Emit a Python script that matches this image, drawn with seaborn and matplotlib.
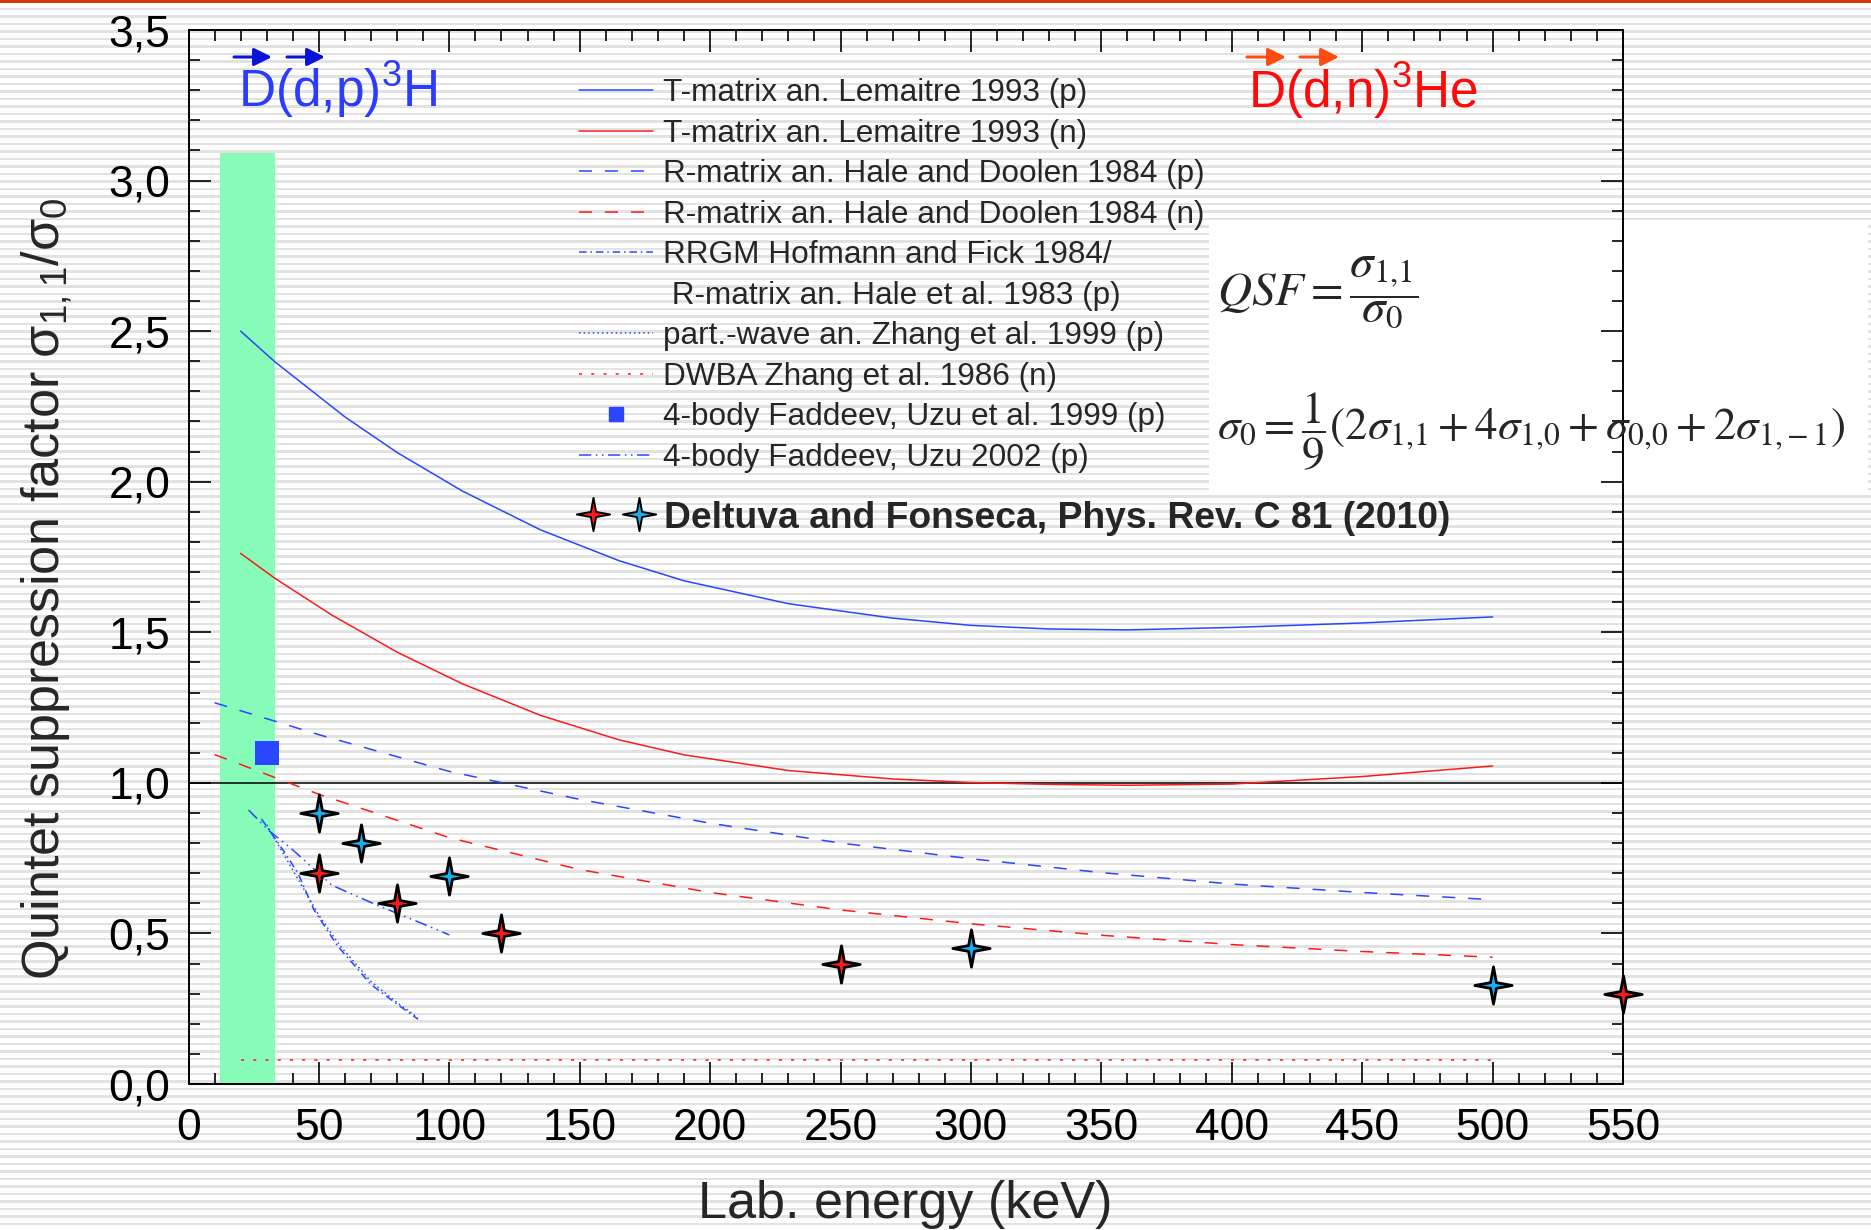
import numpy as np
import seaborn as sns
import matplotlib.pyplot as plt
from matplotlib.lines import Line2D
from matplotlib.path import Path
from matplotlib.patches import Rectangle
from matplotlib.ticker import MultipleLocator, FuncFormatter
from matplotlib.legend_handler import HandlerTuple

# --- data (keV, sigma_11/sigma_0) ---
# T-matrix an. Lemaitre 1993
tm_p_x = [20, 33, 60, 80, 105, 135, 165, 190, 230, 270, 300, 330, 360, 400, 450, 500]
tm_p_y = [2.50, 2.399, 2.215, 2.097, 1.969, 1.840, 1.738, 1.671, 1.595, 1.547, 1.523, 1.511,
          1.508, 1.516, 1.531, 1.551]
tm_n_x = [20, 33, 55, 80, 105, 135, 165, 190, 230, 270, 300, 330, 360, 400, 450, 500]
tm_n_y = [1.762, 1.680, 1.557, 1.434, 1.329, 1.224, 1.143, 1.093, 1.041, 1.013, 1.001, 0.995,
          0.992, 0.996, 1.021, 1.056]
# R-matrix an. Hale and Doolen 1984
rm_p_x = [10, 50, 100, 150, 200, 250, 300, 350, 400, 450, 500]
rm_p_y = [1.266, 1.160, 1.038, 0.945, 0.866, 0.800, 0.748, 0.702, 0.664, 0.636, 0.612]
rm_n_x = [10, 50, 100, 150, 200, 250, 300, 350, 400, 450, 500]
rm_n_y = [1.094, 0.962, 0.818, 0.712, 0.636, 0.578, 0.532, 0.494, 0.463, 0.440, 0.421]
# RRGM Hofmann and Fick 1984 / R-matrix Hale et al. 1983
rrgm_x = [28, 32, 36, 42, 48, 57, 70, 80, 88]
rrgm_y = [0.88, 0.83, 0.78, 0.70, 0.58, 0.46, 0.33, 0.265, 0.215]
# part.-wave an. Zhang et al. 1999
pw_x = [30, 34, 38, 44, 50, 58, 70, 80, 88]
pw_y = [0.86, 0.80, 0.74, 0.65, 0.56, 0.46, 0.34, 0.27, 0.22]
# DWBA Zhang et al. 1986
dwba_x = [20, 500]
dwba_y = [0.08, 0.08]
# 4-body Faddeev, Uzu 2002 / Uzu et al. 1999
uzu02_x = [23, 31, 39, 55, 72, 89, 100]
uzu02_y = [0.91, 0.84, 0.785, 0.66, 0.595, 0.535, 0.495]
uzu99_x = [30]
uzu99_y = [1.10]
# Deltuva and Fonseca 2010
df_n_x = [50, 80, 120, 250, 550]
df_n_y = [0.70, 0.60, 0.50, 0.40, 0.30]
df_p_x = [50, 66, 100, 300, 500]
df_p_y = [0.90, 0.80, 0.69, 0.45, 0.33]
# shaded energy region
band_x = [12, 33]
band_top = 3.09

BLUE = "#2a46ff"
RED = "#ff1a1a"
CYAN = "#1aaef0"
GREEN = "#86fcb8"

sns.set_style("ticks")
plt.rcParams["font.family"] = ["Liberation Sans", "DejaVu Sans"]

W, H = 1871, 1230
fig = plt.figure(figsize=(W / 100, H / 100), dpi=100)

# striped slide background
rows = np.arange(H)
stripe = np.where((2 * rows) % 15 < 5, 0.885, 1.0)
bg = fig.add_axes([0, 0, 1, 1])
bg.imshow(stripe[:, None], cmap="gray", vmin=0, vmax=1, aspect="auto",
          interpolation="nearest", extent=(0, 1, 0, 1))
bg.set_axis_off()
bg.set_zorder(-5)
fig.add_artist(Rectangle((0, 1 - 3 / H), 1, 3 / H, transform=fig.transFigure,
                         color="#d23a08", lw=0))

ax = fig.add_axes([188.5 / W, 1 - 1084 / H, 1434.5 / W, 1054 / H])
ax.set_facecolor("none")

ax.fill_between(band_x, 0, band_top, color=GREEN, lw=0, zorder=0.6)
ax.add_patch(Rectangle((1209 / W, 1 - 493 / H), 659 / W, 270 / H, transform=fig.transFigure,
                       facecolor="white", edgecolor="none", clip_on=False, zorder=0.5))

ls_dash = (0, (8.5, 8.5))
ls_dot = (0, (1, 2))
ls_sparse = (0, (2, 6))
ls_dashdot = (0, (5, 2.5, 1, 2.5))
ls_dashdotdot = (0, (8, 3, 1, 3, 1, 3))
lw = 1.1

sns.lineplot(x=tm_p_x, y=tm_p_y, color=BLUE, lw=lw, ax=ax)
sns.lineplot(x=tm_n_x, y=tm_n_y, color=RED, lw=lw, ax=ax)
sns.lineplot(x=rm_p_x, y=rm_p_y, color=BLUE, lw=lw, linestyle=ls_dash, ax=ax)
sns.lineplot(x=rm_n_x, y=rm_n_y, color=RED, lw=lw, linestyle=ls_dash, ax=ax)
sns.lineplot(x=rrgm_x, y=rrgm_y, color=BLUE, lw=lw, linestyle=ls_dashdot, ax=ax)
sns.lineplot(x=pw_x, y=pw_y, color=BLUE, lw=lw, linestyle=ls_dot, ax=ax)
sns.lineplot(x=dwba_x, y=dwba_y, color=RED, lw=lw, linestyle=ls_sparse, ax=ax)
sns.lineplot(x=uzu02_x, y=uzu02_y, color=BLUE, lw=lw, linestyle=ls_dashdotdot, ax=ax)
ax.axhline(1.0, color="black", lw=1.1, zorder=1.5)

sns.scatterplot(x=uzu99_x, y=uzu99_y, marker="s", s=300, color=BLUE, edgecolor=BLUE,
                linewidth=0, ax=ax, zorder=4)

# four-pointed star marker
ang = np.deg2rad(np.arange(0, 360, 45))
rad = np.array([1, 0.22] * 4)
verts = np.column_stack([rad * np.cos(ang), rad * np.sin(ang)])
verts = np.vstack([verts, verts[:1]])
star = Path(verts, [Path.MOVETO] + [Path.LINETO] * 7 + [Path.CLOSEPOLY])

sns.scatterplot(x=df_n_x, y=df_n_y, marker=star, s=720, color=RED, edgecolor="black",
                linewidth=2.0, ax=ax, zorder=5, clip_on=False)
sns.scatterplot(x=df_p_x, y=df_p_y, marker=star, s=720, color=CYAN, edgecolor="black",
                linewidth=2.0, ax=ax, zorder=5, clip_on=False)

ax.set_xlim(0, 550)
ax.set_ylim(0, 3.5)
ax.xaxis.set_major_locator(MultipleLocator(50))
ax.xaxis.set_minor_locator(MultipleLocator(10))
ax.yaxis.set_major_locator(MultipleLocator(0.5))
ax.yaxis.set_minor_locator(MultipleLocator(0.1))
ax.yaxis.set_major_formatter(FuncFormatter(lambda v, p: f"{v:.1f}".replace(".", ",")))
ax.tick_params(which="both", direction="in", top=True, right=True, width=1.2, colors="black")
ax.tick_params(which="major", length=16, labelsize=32)
ax.tick_params(which="minor", length=8)
ax.tick_params(axis="x", pad=17)
ax.tick_params(axis="y", pad=13)
for s in ax.spines.values():
    s.set_linewidth(1.4)
    s.set_color("black")

ax.set_xlabel("Lab. energy (keV)", fontsize=37.5)
ax.set_ylabel("Quintet suppression factor σ$_\\mathregular{1,1}$/σ$_\\mathregular{0}$", fontsize=37.5)
ax.xaxis.set_label_coords(0.5, -0.091)
ax.yaxis.set_label_coords(-0.08, 0.47)

# legend
handles = [
    Line2D([], [], color=BLUE, lw=lw),
    Line2D([], [], color=RED, lw=lw),
    Line2D([], [], color=BLUE, lw=lw, linestyle=ls_dash),
    Line2D([], [], color=RED, lw=lw, linestyle=ls_dash),
    Line2D([], [], color=BLUE, lw=lw, linestyle=ls_dashdot),
    Line2D([], [], color="none", lw=0),
    Line2D([], [], color=BLUE, lw=lw, linestyle=ls_dot),
    Line2D([], [], color=RED, lw=lw, linestyle=ls_sparse),
    Line2D([], [], color=BLUE, lw=0, marker="s", markersize=10),
    Line2D([], [], color=BLUE, lw=lw, linestyle=ls_dashdotdot),
]
labels = [
    "T-matrix an. Lemaitre 1993 (p)",
    "T-matrix an. Lemaitre 1993 (n)",
    "R-matrix an. Hale and Doolen 1984 (p)",
    "R-matrix an. Hale and Doolen 1984 (n)",
    "RRGM Hofmann and Fick 1984/",
    " R-matrix an. Hale et al. 1983 (p)",
    "part.-wave an. Zhang et al. 1999 (p)",
    "DWBA Zhang et al. 1986 (n)",
    "4-body Faddeev, Uzu et al. 1999 (p)",
    "4-body Faddeev, Uzu 2002 (p)",
]
leg1 = ax.legend(handles, labels, loc="upper left", bbox_to_anchor=(579 / W, 1 - 78 / H),
                 bbox_transform=fig.transFigure, frameon=False, fontsize=22.7,
                 handlelength=2.35, handletextpad=0.3, labelspacing=0.335,
                 borderpad=0, borderaxespad=0)
ax.add_artist(leg1)

star_n = Line2D([], [], lw=0, marker=star, markersize=24, markerfacecolor=RED,
                markeredgecolor="black", markeredgewidth=1.4)
star_p = Line2D([], [], lw=0, marker=star, markersize=24, markerfacecolor=CYAN,
                markeredgecolor="black", markeredgewidth=1.4)
ax.legend([(star_n, star_p)], ["Deltuva and Fonseca, Phys. Rev. C 81 (2010)"],
          handler_map={tuple: HandlerTuple(ndivide=None, pad=0.3)},
          loc="center left", bbox_to_anchor=(575 / W, 1 - 518 / H),
          bbox_transform=fig.transFigure, frameon=False,
          prop={"weight": "bold", "size": 26.8}, handlelength=2.2, handletextpad=0.2,
          borderpad=0, borderaxespad=0)

# reaction labels with polarisation arrows
fig.text(238 / W, 1 - 107 / H, "D(d,p)$^\\mathregular{3}$H", color="#2b3cff", fontsize=37,
         va="baseline", ha="left")
fig.text(1248 / W, 1 - 108 / H, "D(d,n)$^\\mathregular{3}$He", color="#ff0a0a", fontsize=37,
         va="baseline", ha="left")
arrows = [((234, 272), "#0a14d8"), ((287, 325), "#0a14d8"),
          ((1247, 1286), "#ff4a10"), ((1300, 1339), "#ff4a10")]
for (x0, x1), c in arrows:
    ax.annotate("", xy=(x1 / W, 1 - 57 / H), xytext=(x0 / W, 1 - 57 / H),
                xycoords="figure fraction", textcoords="figure fraction",
                arrowprops=dict(arrowstyle="-|>,head_length=0.6,head_width=0.3",
                                color=c, lw=2.2, mutation_scale=18,
                                shrinkA=0, shrinkB=0))

# formulas
fig.text(1217 / W, 1 - 292 / H, r"$QSF = \dfrac{\sigma_{1{,}1}}{\sigma_0}$",
         math_fontfamily="stix", fontsize=34, va="center", ha="left")
fig.text(1217 / W, 1 - 431 / H,
         r"$\sigma_0 = \dfrac{1}{9}\left(2\sigma_{1{,}1} + 4\sigma_{1{,}0} + \sigma_{0{,}0} + 2\sigma_{1{,}-1}\right)$",
         math_fontfamily="stix", fontsize=32.5, va="center", ha="left")

fig.savefig("out.png", dpi=100)
